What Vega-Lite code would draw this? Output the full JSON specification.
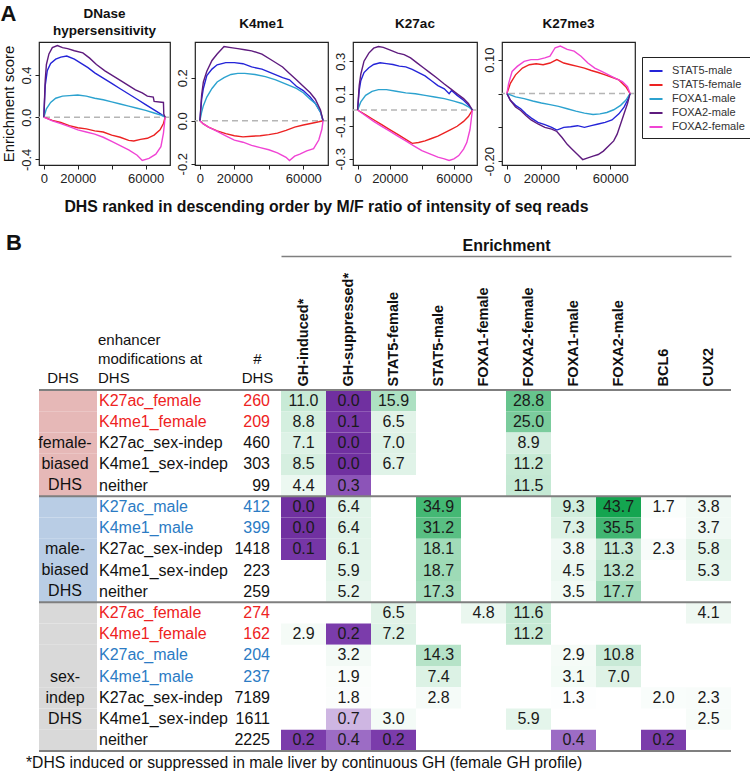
{
  "$schema": "https://vega.github.io/schema/vega-lite/v6.json",
  "padding": {"top": 2, "left": 0, "right": 2, "bottom": 0},
  "background": "white",
  "title": {"text": "A", "anchor": "start", "fontSize": 22, "fontWeight": "bold", "offset": -20},
  "datasets": {
    "curves": [
      {"p":"DNase","s":"STAT5-male","x":0,"y":0},{"p":"DNase","s":"STAT5-male","x":800,"y":0.3},{"p":"DNase","s":"STAT5-male","x":2000,"y":0.44},{"p":"DNase","s":"STAT5-male","x":4000,"y":0.51},{"p":"DNase","s":"STAT5-male","x":7000,"y":0.55},{"p":"DNase","s":"STAT5-male","x":10000,"y":0.57},{"p":"DNase","s":"STAT5-male","x":13500,"y":0.58},{"p":"DNase","s":"STAT5-male","x":18000,"y":0.55},{"p":"DNase","s":"STAT5-male","x":22000,"y":0.51},{"p":"DNase","s":"STAT5-male","x":26000,"y":0.47},{"p":"DNase","s":"STAT5-male","x":30000,"y":0.42},{"p":"DNase","s":"STAT5-male","x":35000,"y":0.37},{"p":"DNase","s":"STAT5-male","x":40000,"y":0.32},{"p":"DNase","s":"STAT5-male","x":45000,"y":0.27},{"p":"DNase","s":"STAT5-male","x":50000,"y":0.22},{"p":"DNase","s":"STAT5-male","x":55000,"y":0.17},{"p":"DNase","s":"STAT5-male","x":60000,"y":0.12},{"p":"DNase","s":"STAT5-male","x":65000,"y":0.07},{"p":"DNase","s":"STAT5-male","x":69000,"y":0.03},{"p":"DNase","s":"STAT5-male","x":71500,"y":0},
      {"p":"DNase","s":"STAT5-female","x":0,"y":0},{"p":"DNase","s":"STAT5-female","x":5000,"y":-0.03},{"p":"DNase","s":"STAT5-female","x":10000,"y":-0.05},{"p":"DNase","s":"STAT5-female","x":15000,"y":-0.08},{"p":"DNase","s":"STAT5-female","x":20000,"y":-0.1},{"p":"DNase","s":"STAT5-female","x":25000,"y":-0.11},{"p":"DNase","s":"STAT5-female","x":30000,"y":-0.13},{"p":"DNase","s":"STAT5-female","x":35000,"y":-0.14},{"p":"DNase","s":"STAT5-female","x":40000,"y":-0.17},{"p":"DNase","s":"STAT5-female","x":45000,"y":-0.19},{"p":"DNase","s":"STAT5-female","x":50000,"y":-0.22},{"p":"DNase","s":"STAT5-female","x":53000,"y":-0.225},{"p":"DNase","s":"STAT5-female","x":57000,"y":-0.21},{"p":"DNase","s":"STAT5-female","x":61000,"y":-0.2},{"p":"DNase","s":"STAT5-female","x":65000,"y":-0.17},{"p":"DNase","s":"STAT5-female","x":68500,"y":-0.12},{"p":"DNase","s":"STAT5-female","x":70500,"y":-0.06},{"p":"DNase","s":"STAT5-female","x":71500,"y":0},
      {"p":"DNase","s":"FOXA1-male","x":0,"y":0},{"p":"DNase","s":"FOXA1-male","x":1500,"y":0.08},{"p":"DNase","s":"FOXA1-male","x":4000,"y":0.14},{"p":"DNase","s":"FOXA1-male","x":7000,"y":0.18},{"p":"DNase","s":"FOXA1-male","x":11000,"y":0.2},{"p":"DNase","s":"FOXA1-male","x":15000,"y":0.205},{"p":"DNase","s":"FOXA1-male","x":20000,"y":0.21},{"p":"DNase","s":"FOXA1-male","x":25000,"y":0.2},{"p":"DNase","s":"FOXA1-male","x":30000,"y":0.18},{"p":"DNase","s":"FOXA1-male","x":35000,"y":0.165},{"p":"DNase","s":"FOXA1-male","x":40000,"y":0.145},{"p":"DNase","s":"FOXA1-male","x":45000,"y":0.125},{"p":"DNase","s":"FOXA1-male","x":50000,"y":0.105},{"p":"DNase","s":"FOXA1-male","x":55000,"y":0.085},{"p":"DNase","s":"FOXA1-male","x":60000,"y":0.065},{"p":"DNase","s":"FOXA1-male","x":65000,"y":0.04},{"p":"DNase","s":"FOXA1-male","x":69000,"y":0.02},{"p":"DNase","s":"FOXA1-male","x":71500,"y":0},
      {"p":"DNase","s":"FOXA2-male","x":0,"y":0},{"p":"DNase","s":"FOXA2-male","x":800,"y":0.35},{"p":"DNase","s":"FOXA2-male","x":1500,"y":0.5},{"p":"DNase","s":"FOXA2-male","x":3000,"y":0.6},{"p":"DNase","s":"FOXA2-male","x":5000,"y":0.66},{"p":"DNase","s":"FOXA2-male","x":8000,"y":0.68},{"p":"DNase","s":"FOXA2-male","x":11000,"y":0.66},{"p":"DNase","s":"FOXA2-male","x":14000,"y":0.65},{"p":"DNase","s":"FOXA2-male","x":18000,"y":0.63},{"p":"DNase","s":"FOXA2-male","x":23000,"y":0.61},{"p":"DNase","s":"FOXA2-male","x":27000,"y":0.56},{"p":"DNase","s":"FOXA2-male","x":31000,"y":0.5},{"p":"DNase","s":"FOXA2-male","x":36000,"y":0.44},{"p":"DNase","s":"FOXA2-male","x":41000,"y":0.39},{"p":"DNase","s":"FOXA2-male","x":46000,"y":0.34},{"p":"DNase","s":"FOXA2-male","x":50000,"y":0.3},{"p":"DNase","s":"FOXA2-male","x":54000,"y":0.26},{"p":"DNase","s":"FOXA2-male","x":58000,"y":0.23},{"p":"DNase","s":"FOXA2-male","x":61000,"y":0.2},{"p":"DNase","s":"FOXA2-male","x":64500,"y":0.19},{"p":"DNase","s":"FOXA2-male","x":65000,"y":0.15},{"p":"DNase","s":"FOXA2-male","x":70500,"y":0.14},{"p":"DNase","s":"FOXA2-male","x":70700,"y":0.03},{"p":"DNase","s":"FOXA2-male","x":71500,"y":0},
      {"p":"DNase","s":"FOXA2-female","x":0,"y":0},{"p":"DNase","s":"FOXA2-female","x":5000,"y":-0.035},{"p":"DNase","s":"FOXA2-female","x":10000,"y":-0.06},{"p":"DNase","s":"FOXA2-female","x":15000,"y":-0.09},{"p":"DNase","s":"FOXA2-female","x":20000,"y":-0.12},{"p":"DNase","s":"FOXA2-female","x":25000,"y":-0.14},{"p":"DNase","s":"FOXA2-female","x":30000,"y":-0.16},{"p":"DNase","s":"FOXA2-female","x":35000,"y":-0.19},{"p":"DNase","s":"FOXA2-female","x":40000,"y":-0.23},{"p":"DNase","s":"FOXA2-female","x":45000,"y":-0.27},{"p":"DNase","s":"FOXA2-female","x":50000,"y":-0.31},{"p":"DNase","s":"FOXA2-female","x":55000,"y":-0.36},{"p":"DNase","s":"FOXA2-female","x":58000,"y":-0.41},{"p":"DNase","s":"FOXA2-female","x":62000,"y":-0.39},{"p":"DNase","s":"FOXA2-female","x":66000,"y":-0.35},{"p":"DNase","s":"FOXA2-female","x":69000,"y":-0.28},{"p":"DNase","s":"FOXA2-female","x":70500,"y":-0.15},{"p":"DNase","s":"FOXA2-female","x":71500,"y":0},

      {"p":"K4me1","s":"STAT5-male","x":0,"y":0},{"p":"K4me1","s":"STAT5-male","x":1000,"y":0.1},{"p":"K4me1","s":"STAT5-male","x":2000,"y":0.15},{"p":"K4me1","s":"STAT5-male","x":4000,"y":0.21},{"p":"K4me1","s":"STAT5-male","x":7000,"y":0.24},{"p":"K4me1","s":"STAT5-male","x":10000,"y":0.26},{"p":"K4me1","s":"STAT5-male","x":15000,"y":0.27},{"p":"K4me1","s":"STAT5-male","x":20000,"y":0.27},{"p":"K4me1","s":"STAT5-male","x":25000,"y":0.265},{"p":"K4me1","s":"STAT5-male","x":30000,"y":0.25},{"p":"K4me1","s":"STAT5-male","x":36000,"y":0.24},{"p":"K4me1","s":"STAT5-male","x":42000,"y":0.22},{"p":"K4me1","s":"STAT5-male","x":48000,"y":0.2},{"p":"K4me1","s":"STAT5-male","x":52000,"y":0.19},{"p":"K4me1","s":"STAT5-male","x":56000,"y":0.16},{"p":"K4me1","s":"STAT5-male","x":60000,"y":0.14},{"p":"K4me1","s":"STAT5-male","x":64000,"y":0.11},{"p":"K4me1","s":"STAT5-male","x":67000,"y":0.08},{"p":"K4me1","s":"STAT5-male","x":70000,"y":0.04},{"p":"K4me1","s":"STAT5-male","x":71500,"y":0},
      {"p":"K4me1","s":"STAT5-female","x":0,"y":0},{"p":"K4me1","s":"STAT5-female","x":2000,"y":-0.015},{"p":"K4me1","s":"STAT5-female","x":5000,"y":-0.03},{"p":"K4me1","s":"STAT5-female","x":10000,"y":-0.047},{"p":"K4me1","s":"STAT5-female","x":15000,"y":-0.06},{"p":"K4me1","s":"STAT5-female","x":20000,"y":-0.07},{"p":"K4me1","s":"STAT5-female","x":25000,"y":-0.075},{"p":"K4me1","s":"STAT5-female","x":30000,"y":-0.072},{"p":"K4me1","s":"STAT5-female","x":35000,"y":-0.07},{"p":"K4me1","s":"STAT5-female","x":40000,"y":-0.065},{"p":"K4me1","s":"STAT5-female","x":45000,"y":-0.058},{"p":"K4me1","s":"STAT5-female","x":50000,"y":-0.045},{"p":"K4me1","s":"STAT5-female","x":55000,"y":-0.03},{"p":"K4me1","s":"STAT5-female","x":60000,"y":-0.02},{"p":"K4me1","s":"STAT5-female","x":65000,"y":-0.012},{"p":"K4me1","s":"STAT5-female","x":69000,"y":-0.005},{"p":"K4me1","s":"STAT5-female","x":71500,"y":0},
      {"p":"K4me1","s":"FOXA1-male","x":0,"y":0},{"p":"K4me1","s":"FOXA1-male","x":1000,"y":0.04},{"p":"K4me1","s":"FOXA1-male","x":2000,"y":0.07},{"p":"K4me1","s":"FOXA1-male","x":4000,"y":0.11},{"p":"K4me1","s":"FOXA1-male","x":7000,"y":0.15},{"p":"K4me1","s":"FOXA1-male","x":10000,"y":0.18},{"p":"K4me1","s":"FOXA1-male","x":14000,"y":0.2},{"p":"K4me1","s":"FOXA1-male","x":18000,"y":0.215},{"p":"K4me1","s":"FOXA1-male","x":22000,"y":0.22},{"p":"K4me1","s":"FOXA1-male","x":26000,"y":0.22},{"p":"K4me1","s":"FOXA1-male","x":32000,"y":0.215},{"p":"K4me1","s":"FOXA1-male","x":38000,"y":0.205},{"p":"K4me1","s":"FOXA1-male","x":44000,"y":0.19},{"p":"K4me1","s":"FOXA1-male","x":50000,"y":0.17},{"p":"K4me1","s":"FOXA1-male","x":56000,"y":0.15},{"p":"K4me1","s":"FOXA1-male","x":60000,"y":0.13},{"p":"K4me1","s":"FOXA1-male","x":64000,"y":0.1},{"p":"K4me1","s":"FOXA1-male","x":67000,"y":0.08},{"p":"K4me1","s":"FOXA1-male","x":70000,"y":0.04},{"p":"K4me1","s":"FOXA1-male","x":71500,"y":0},
      {"p":"K4me1","s":"FOXA2-male","x":0,"y":0},{"p":"K4me1","s":"FOXA2-male","x":1000,"y":0.12},{"p":"K4me1","s":"FOXA2-male","x":2000,"y":0.18},{"p":"K4me1","s":"FOXA2-male","x":4000,"y":0.23},{"p":"K4me1","s":"FOXA2-male","x":7000,"y":0.28},{"p":"K4me1","s":"FOXA2-male","x":10000,"y":0.31},{"p":"K4me1","s":"FOXA2-male","x":14000,"y":0.345},{"p":"K4me1","s":"FOXA2-male","x":18000,"y":0.34},{"p":"K4me1","s":"FOXA2-male","x":22000,"y":0.335},{"p":"K4me1","s":"FOXA2-male","x":26000,"y":0.33},{"p":"K4me1","s":"FOXA2-male","x":30000,"y":0.325},{"p":"K4me1","s":"FOXA2-male","x":36000,"y":0.31},{"p":"K4me1","s":"FOXA2-male","x":42000,"y":0.28},{"p":"K4me1","s":"FOXA2-male","x":48000,"y":0.25},{"p":"K4me1","s":"FOXA2-male","x":52000,"y":0.22},{"p":"K4me1","s":"FOXA2-male","x":56000,"y":0.19},{"p":"K4me1","s":"FOXA2-male","x":60000,"y":0.16},{"p":"K4me1","s":"FOXA2-male","x":64000,"y":0.13},{"p":"K4me1","s":"FOXA2-male","x":67000,"y":0.1},{"p":"K4me1","s":"FOXA2-male","x":70000,"y":0.05},{"p":"K4me1","s":"FOXA2-male","x":71500,"y":0},
      {"p":"K4me1","s":"FOXA2-female","x":0,"y":0},{"p":"K4me1","s":"FOXA2-female","x":2000,"y":-0.015},{"p":"K4me1","s":"FOXA2-female","x":5000,"y":-0.03},{"p":"K4me1","s":"FOXA2-female","x":10000,"y":-0.05},{"p":"K4me1","s":"FOXA2-female","x":15000,"y":-0.07},{"p":"K4me1","s":"FOXA2-female","x":20000,"y":-0.09},{"p":"K4me1","s":"FOXA2-female","x":25000,"y":-0.1},{"p":"K4me1","s":"FOXA2-female","x":30000,"y":-0.115},{"p":"K4me1","s":"FOXA2-female","x":35000,"y":-0.125},{"p":"K4me1","s":"FOXA2-female","x":40000,"y":-0.135},{"p":"K4me1","s":"FOXA2-female","x":45000,"y":-0.15},{"p":"K4me1","s":"FOXA2-female","x":50000,"y":-0.17},{"p":"K4me1","s":"FOXA2-female","x":52000,"y":-0.185},{"p":"K4me1","s":"FOXA2-female","x":55000,"y":-0.165},{"p":"K4me1","s":"FOXA2-female","x":58000,"y":-0.155},{"p":"K4me1","s":"FOXA2-female","x":62000,"y":-0.14},{"p":"K4me1","s":"FOXA2-female","x":66000,"y":-0.13},{"p":"K4me1","s":"FOXA2-female","x":69000,"y":-0.09},{"p":"K4me1","s":"FOXA2-female","x":70800,"y":-0.04},{"p":"K4me1","s":"FOXA2-female","x":71500,"y":0},

      {"p":"K27ac","s":"STAT5-male","x":0,"y":0},{"p":"K27ac","s":"STAT5-male","x":1000,"y":0.12},{"p":"K27ac","s":"STAT5-male","x":2000,"y":0.18},{"p":"K27ac","s":"STAT5-male","x":4000,"y":0.23},{"p":"K27ac","s":"STAT5-male","x":7000,"y":0.26},{"p":"K27ac","s":"STAT5-male","x":10000,"y":0.28},{"p":"K27ac","s":"STAT5-male","x":14000,"y":0.29},{"p":"K27ac","s":"STAT5-male","x":18000,"y":0.285},{"p":"K27ac","s":"STAT5-male","x":22000,"y":0.28},{"p":"K27ac","s":"STAT5-male","x":26000,"y":0.27},{"p":"K27ac","s":"STAT5-male","x":30000,"y":0.265},{"p":"K27ac","s":"STAT5-male","x":34000,"y":0.25},{"p":"K27ac","s":"STAT5-male","x":38000,"y":0.23},{"p":"K27ac","s":"STAT5-male","x":42000,"y":0.21},{"p":"K27ac","s":"STAT5-male","x":46000,"y":0.18},{"p":"K27ac","s":"STAT5-male","x":50000,"y":0.15},{"p":"K27ac","s":"STAT5-male","x":54000,"y":0.13},{"p":"K27ac","s":"STAT5-male","x":57000,"y":0.1},{"p":"K27ac","s":"STAT5-male","x":58500,"y":0.12},{"p":"K27ac","s":"STAT5-male","x":62000,"y":0.09},{"p":"K27ac","s":"STAT5-male","x":66000,"y":0.06},{"p":"K27ac","s":"STAT5-male","x":69000,"y":0.03},{"p":"K27ac","s":"STAT5-male","x":71500,"y":0},
      {"p":"K27ac","s":"STAT5-female","x":0,"y":0},{"p":"K27ac","s":"STAT5-female","x":5000,"y":-0.03},{"p":"K27ac","s":"STAT5-female","x":10000,"y":-0.06},{"p":"K27ac","s":"STAT5-female","x":15000,"y":-0.09},{"p":"K27ac","s":"STAT5-female","x":20000,"y":-0.12},{"p":"K27ac","s":"STAT5-female","x":25000,"y":-0.15},{"p":"K27ac","s":"STAT5-female","x":30000,"y":-0.18},{"p":"K27ac","s":"STAT5-female","x":34000,"y":-0.205},{"p":"K27ac","s":"STAT5-female","x":38000,"y":-0.2},{"p":"K27ac","s":"STAT5-female","x":42000,"y":-0.19},{"p":"K27ac","s":"STAT5-female","x":46000,"y":-0.175},{"p":"K27ac","s":"STAT5-female","x":50000,"y":-0.16},{"p":"K27ac","s":"STAT5-female","x":54000,"y":-0.14},{"p":"K27ac","s":"STAT5-female","x":58000,"y":-0.12},{"p":"K27ac","s":"STAT5-female","x":62000,"y":-0.1},{"p":"K27ac","s":"STAT5-female","x":66000,"y":-0.07},{"p":"K27ac","s":"STAT5-female","x":69000,"y":-0.04},{"p":"K27ac","s":"STAT5-female","x":71500,"y":0},
      {"p":"K27ac","s":"FOXA1-male","x":0,"y":0},{"p":"K27ac","s":"FOXA1-male","x":2000,"y":0.05},{"p":"K27ac","s":"FOXA1-male","x":5000,"y":0.09},{"p":"K27ac","s":"FOXA1-male","x":9000,"y":0.115},{"p":"K27ac","s":"FOXA1-male","x":13000,"y":0.125},{"p":"K27ac","s":"FOXA1-male","x":18000,"y":0.125},{"p":"K27ac","s":"FOXA1-male","x":24000,"y":0.115},{"p":"K27ac","s":"FOXA1-male","x":30000,"y":0.105},{"p":"K27ac","s":"FOXA1-male","x":36000,"y":0.1},{"p":"K27ac","s":"FOXA1-male","x":42000,"y":0.09},{"p":"K27ac","s":"FOXA1-male","x":48000,"y":0.08},{"p":"K27ac","s":"FOXA1-male","x":54000,"y":0.07},{"p":"K27ac","s":"FOXA1-male","x":60000,"y":0.055},{"p":"K27ac","s":"FOXA1-male","x":65000,"y":0.04},{"p":"K27ac","s":"FOXA1-male","x":69000,"y":0.02},{"p":"K27ac","s":"FOXA1-male","x":71500,"y":0},
      {"p":"K27ac","s":"FOXA2-male","x":0,"y":0},{"p":"K27ac","s":"FOXA2-male","x":1000,"y":0.15},{"p":"K27ac","s":"FOXA2-male","x":2000,"y":0.22},{"p":"K27ac","s":"FOXA2-male","x":4000,"y":0.3},{"p":"K27ac","s":"FOXA2-male","x":7000,"y":0.35},{"p":"K27ac","s":"FOXA2-male","x":10000,"y":0.38},{"p":"K27ac","s":"FOXA2-male","x":13000,"y":0.39},{"p":"K27ac","s":"FOXA2-male","x":16000,"y":0.385},{"p":"K27ac","s":"FOXA2-male","x":20000,"y":0.37},{"p":"K27ac","s":"FOXA2-male","x":25000,"y":0.35},{"p":"K27ac","s":"FOXA2-male","x":29000,"y":0.34},{"p":"K27ac","s":"FOXA2-male","x":33000,"y":0.32},{"p":"K27ac","s":"FOXA2-male","x":37000,"y":0.29},{"p":"K27ac","s":"FOXA2-male","x":41000,"y":0.26},{"p":"K27ac","s":"FOXA2-male","x":45000,"y":0.23},{"p":"K27ac","s":"FOXA2-male","x":49000,"y":0.2},{"p":"K27ac","s":"FOXA2-male","x":54000,"y":0.16},{"p":"K27ac","s":"FOXA2-male","x":58000,"y":0.13},{"p":"K27ac","s":"FOXA2-male","x":62000,"y":0.1},{"p":"K27ac","s":"FOXA2-male","x":66000,"y":0.07},{"p":"K27ac","s":"FOXA2-male","x":69000,"y":0.04},{"p":"K27ac","s":"FOXA2-male","x":71500,"y":0},
      {"p":"K27ac","s":"FOXA2-female","x":0,"y":0},{"p":"K27ac","s":"FOXA2-female","x":5000,"y":-0.035},{"p":"K27ac","s":"FOXA2-female","x":10000,"y":-0.07},{"p":"K27ac","s":"FOXA2-female","x":15000,"y":-0.1},{"p":"K27ac","s":"FOXA2-female","x":20000,"y":-0.13},{"p":"K27ac","s":"FOXA2-female","x":25000,"y":-0.16},{"p":"K27ac","s":"FOXA2-female","x":30000,"y":-0.19},{"p":"K27ac","s":"FOXA2-female","x":35000,"y":-0.22},{"p":"K27ac","s":"FOXA2-female","x":40000,"y":-0.25},{"p":"K27ac","s":"FOXA2-female","x":45000,"y":-0.27},{"p":"K27ac","s":"FOXA2-female","x":50000,"y":-0.29},{"p":"K27ac","s":"FOXA2-female","x":54000,"y":-0.3},{"p":"K27ac","s":"FOXA2-female","x":57000,"y":-0.31},{"p":"K27ac","s":"FOXA2-female","x":60000,"y":-0.3},{"p":"K27ac","s":"FOXA2-female","x":63000,"y":-0.28},{"p":"K27ac","s":"FOXA2-female","x":66000,"y":-0.24},{"p":"K27ac","s":"FOXA2-female","x":68000,"y":-0.2},{"p":"K27ac","s":"FOXA2-female","x":70000,"y":-0.12},{"p":"K27ac","s":"FOXA2-female","x":71500,"y":0},

      {"p":"K27me3","s":"STAT5-male","x":0,"y":0},{"p":"K27me3","s":"STAT5-male","x":2000,"y":-0.02},{"p":"K27me3","s":"STAT5-male","x":5000,"y":-0.035},{"p":"K27me3","s":"STAT5-male","x":8000,"y":-0.045},{"p":"K27me3","s":"STAT5-male","x":11000,"y":-0.06},{"p":"K27me3","s":"STAT5-male","x":14000,"y":-0.072},{"p":"K27me3","s":"STAT5-male","x":18000,"y":-0.085},{"p":"K27me3","s":"STAT5-male","x":22000,"y":-0.092},{"p":"K27me3","s":"STAT5-male","x":26000,"y":-0.1},{"p":"K27me3","s":"STAT5-male","x":29000,"y":-0.108},{"p":"K27me3","s":"STAT5-male","x":33000,"y":-0.1},{"p":"K27me3","s":"STAT5-male","x":37000,"y":-0.098},{"p":"K27me3","s":"STAT5-male","x":41000,"y":-0.095},{"p":"K27me3","s":"STAT5-male","x":45000,"y":-0.1},{"p":"K27me3","s":"STAT5-male","x":49000,"y":-0.095},{"p":"K27me3","s":"STAT5-male","x":53000,"y":-0.09},{"p":"K27me3","s":"STAT5-male","x":57000,"y":-0.085},{"p":"K27me3","s":"STAT5-male","x":61000,"y":-0.078},{"p":"K27me3","s":"STAT5-male","x":65000,"y":-0.06},{"p":"K27me3","s":"STAT5-male","x":68000,"y":-0.04},{"p":"K27me3","s":"STAT5-male","x":70000,"y":-0.02},{"p":"K27me3","s":"STAT5-male","x":71500,"y":0},
      {"p":"K27me3","s":"STAT5-female","x":0,"y":0},{"p":"K27me3","s":"STAT5-female","x":2000,"y":0.03},{"p":"K27me3","s":"STAT5-female","x":5000,"y":0.055},{"p":"K27me3","s":"STAT5-female","x":9000,"y":0.075},{"p":"K27me3","s":"STAT5-female","x":13000,"y":0.085},{"p":"K27me3","s":"STAT5-female","x":17000,"y":0.088},{"p":"K27me3","s":"STAT5-female","x":21000,"y":0.085},{"p":"K27me3","s":"STAT5-female","x":25000,"y":0.09},{"p":"K27me3","s":"STAT5-female","x":29000,"y":0.1},{"p":"K27me3","s":"STAT5-female","x":33000,"y":0.09},{"p":"K27me3","s":"STAT5-female","x":37000,"y":0.085},{"p":"K27me3","s":"STAT5-female","x":41000,"y":0.08},{"p":"K27me3","s":"STAT5-female","x":45000,"y":0.075},{"p":"K27me3","s":"STAT5-female","x":49000,"y":0.068},{"p":"K27me3","s":"STAT5-female","x":53000,"y":0.062},{"p":"K27me3","s":"STAT5-female","x":57000,"y":0.055},{"p":"K27me3","s":"STAT5-female","x":61000,"y":0.048},{"p":"K27me3","s":"STAT5-female","x":65000,"y":0.04},{"p":"K27me3","s":"STAT5-female","x":69000,"y":0.02},{"p":"K27me3","s":"STAT5-female","x":71500,"y":0},
      {"p":"K27me3","s":"FOXA1-male","x":0,"y":0},{"p":"K27me3","s":"FOXA1-male","x":5000,"y":-0.01},{"p":"K27me3","s":"FOXA1-male","x":10000,"y":-0.015},{"p":"K27me3","s":"FOXA1-male","x":15000,"y":-0.022},{"p":"K27me3","s":"FOXA1-male","x":20000,"y":-0.028},{"p":"K27me3","s":"FOXA1-male","x":25000,"y":-0.033},{"p":"K27me3","s":"FOXA1-male","x":30000,"y":-0.038},{"p":"K27me3","s":"FOXA1-male","x":35000,"y":-0.045},{"p":"K27me3","s":"FOXA1-male","x":40000,"y":-0.052},{"p":"K27me3","s":"FOXA1-male","x":45000,"y":-0.058},{"p":"K27me3","s":"FOXA1-male","x":50000,"y":-0.062},{"p":"K27me3","s":"FOXA1-male","x":54000,"y":-0.06},{"p":"K27me3","s":"FOXA1-male","x":58000,"y":-0.056},{"p":"K27me3","s":"FOXA1-male","x":62000,"y":-0.048},{"p":"K27me3","s":"FOXA1-male","x":66000,"y":-0.035},{"p":"K27me3","s":"FOXA1-male","x":69000,"y":-0.02},{"p":"K27me3","s":"FOXA1-male","x":71500,"y":0},
      {"p":"K27me3","s":"FOXA2-male","x":0,"y":0},{"p":"K27me3","s":"FOXA2-male","x":2000,"y":-0.02},{"p":"K27me3","s":"FOXA2-male","x":5000,"y":-0.04},{"p":"K27me3","s":"FOXA2-male","x":8000,"y":-0.05},{"p":"K27me3","s":"FOXA2-male","x":11000,"y":-0.065},{"p":"K27me3","s":"FOXA2-male","x":14000,"y":-0.078},{"p":"K27me3","s":"FOXA2-male","x":18000,"y":-0.09},{"p":"K27me3","s":"FOXA2-male","x":22000,"y":-0.1},{"p":"K27me3","s":"FOXA2-male","x":26000,"y":-0.105},{"p":"K27me3","s":"FOXA2-male","x":29000,"y":-0.112},{"p":"K27me3","s":"FOXA2-male","x":32000,"y":-0.13},{"p":"K27me3","s":"FOXA2-male","x":35000,"y":-0.15},{"p":"K27me3","s":"FOXA2-male","x":38000,"y":-0.165},{"p":"K27me3","s":"FOXA2-male","x":41000,"y":-0.18},{"p":"K27me3","s":"FOXA2-male","x":44000,"y":-0.195},{"p":"K27me3","s":"FOXA2-male","x":47000,"y":-0.19},{"p":"K27me3","s":"FOXA2-male","x":50000,"y":-0.185},{"p":"K27me3","s":"FOXA2-male","x":53000,"y":-0.18},{"p":"K27me3","s":"FOXA2-male","x":56000,"y":-0.17},{"p":"K27me3","s":"FOXA2-male","x":59000,"y":-0.155},{"p":"K27me3","s":"FOXA2-male","x":62000,"y":-0.14},{"p":"K27me3","s":"FOXA2-male","x":64000,"y":-0.12},{"p":"K27me3","s":"FOXA2-male","x":66000,"y":-0.09},{"p":"K27me3","s":"FOXA2-male","x":68000,"y":-0.06},{"p":"K27me3","s":"FOXA2-male","x":70000,"y":-0.03},{"p":"K27me3","s":"FOXA2-male","x":71500,"y":0},
      {"p":"K27me3","s":"FOXA2-female","x":0,"y":0},{"p":"K27me3","s":"FOXA2-female","x":1000,"y":0.03},{"p":"K27me3","s":"FOXA2-female","x":3000,"y":0.065},{"p":"K27me3","s":"FOXA2-female","x":6000,"y":0.08},{"p":"K27me3","s":"FOXA2-female","x":10000,"y":0.095},{"p":"K27me3","s":"FOXA2-female","x":14000,"y":0.1},{"p":"K27me3","s":"FOXA2-female","x":18000,"y":0.1},{"p":"K27me3","s":"FOXA2-female","x":22000,"y":0.105},{"p":"K27me3","s":"FOXA2-female","x":25000,"y":0.11},{"p":"K27me3","s":"FOXA2-female","x":28000,"y":0.135},{"p":"K27me3","s":"FOXA2-female","x":31000,"y":0.14},{"p":"K27me3","s":"FOXA2-female","x":35000,"y":0.13},{"p":"K27me3","s":"FOXA2-female","x":39000,"y":0.125},{"p":"K27me3","s":"FOXA2-female","x":43000,"y":0.11},{"p":"K27me3","s":"FOXA2-female","x":47000,"y":0.09},{"p":"K27me3","s":"FOXA2-female","x":51000,"y":0.075},{"p":"K27me3","s":"FOXA2-female","x":55000,"y":0.065},{"p":"K27me3","s":"FOXA2-female","x":59000,"y":0.055},{"p":"K27me3","s":"FOXA2-female","x":63000,"y":0.045},{"p":"K27me3","s":"FOXA2-female","x":67000,"y":0.035},{"p":"K27me3","s":"FOXA2-female","x":70000,"y":0.02},{"p":"K27me3","s":"FOXA2-female","x":71500,"y":0}
    ],
    "rows": [
      {"r":1,"g":"female","mod":"K27ac_female","m":"female","n":260},
      {"r":2,"g":"female","mod":"K4me1_female","m":"female","n":209},
      {"r":3,"g":"female","mod":"K27ac_sex-indep","m":"none","n":460},
      {"r":4,"g":"female","mod":"K4me1_sex-indep","m":"none","n":303},
      {"r":5,"g":"female","mod":"neither","m":"none","n":99},
      {"r":6,"g":"male","mod":"K27ac_male","m":"male","n":412},
      {"r":7,"g":"male","mod":"K4me1_male","m":"male","n":399},
      {"r":8,"g":"male","mod":"K27ac_sex-indep","m":"none","n":1418},
      {"r":9,"g":"male","mod":"K4me1_sex-indep","m":"none","n":223},
      {"r":10,"g":"male","mod":"neither","m":"none","n":259},
      {"r":11,"g":"indep","mod":"K27ac_female","m":"female","n":274},
      {"r":12,"g":"indep","mod":"K4me1_female","m":"female","n":162},
      {"r":13,"g":"indep","mod":"K27ac_male","m":"male","n":204},
      {"r":14,"g":"indep","mod":"K4me1_male","m":"male","n":237},
      {"r":15,"g":"indep","mod":"K27ac_sex-indep","m":"none","n":7189},
      {"r":16,"g":"indep","mod":"K4me1_sex-indep","m":"none","n":1611},
      {"r":17,"g":"indep","mod":"neither","m":"none","n":2225}
    ],
    "groups": [
      {"r":3,"label":"female-\nbiased\nDHS"},
      {"r":8,"label":"male-\nbiased\nDHS"},
      {"r":14,"label":"sex-\nindep\nDHS"}
    ],
    "grouptops": [{"r":1},{"r":6},{"r":11}],
    "tablebottom": [{"r":17}],
    "cells": [
      {"r":1,"c":"GH-induced*","v":11.0},{"r":1,"c":"GH-suppressed*","v":0.0},{"r":1,"c":"STAT5-female","v":15.9},{"r":1,"c":"FOXA2-female","v":28.8},
      {"r":2,"c":"GH-induced*","v":8.8},{"r":2,"c":"GH-suppressed*","v":0.1},{"r":2,"c":"STAT5-female","v":6.5},{"r":2,"c":"FOXA2-female","v":25.0},
      {"r":3,"c":"GH-induced*","v":7.1},{"r":3,"c":"GH-suppressed*","v":0.0},{"r":3,"c":"STAT5-female","v":7.0},{"r":3,"c":"FOXA2-female","v":8.9},
      {"r":4,"c":"GH-induced*","v":8.5},{"r":4,"c":"GH-suppressed*","v":0.0},{"r":4,"c":"STAT5-female","v":6.7},{"r":4,"c":"FOXA2-female","v":11.2},
      {"r":5,"c":"GH-induced*","v":4.4},{"r":5,"c":"GH-suppressed*","v":0.3},{"r":5,"c":"FOXA2-female","v":11.5},
      {"r":6,"c":"GH-induced*","v":0.0},{"r":6,"c":"GH-suppressed*","v":6.4},{"r":6,"c":"STAT5-male","v":34.9},{"r":6,"c":"FOXA1-male","v":9.3},{"r":6,"c":"FOXA2-male","v":43.7},{"r":6,"c":"BCL6","v":1.7},{"r":6,"c":"CUX2","v":3.8},
      {"r":7,"c":"GH-induced*","v":0.0},{"r":7,"c":"GH-suppressed*","v":6.4},{"r":7,"c":"STAT5-male","v":31.2},{"r":7,"c":"FOXA1-male","v":7.3},{"r":7,"c":"FOXA2-male","v":35.5},{"r":7,"c":"CUX2","v":3.7},
      {"r":8,"c":"GH-induced*","v":0.1},{"r":8,"c":"GH-suppressed*","v":6.1},{"r":8,"c":"STAT5-male","v":18.1},{"r":8,"c":"FOXA1-male","v":3.8},{"r":8,"c":"FOXA2-male","v":11.3},{"r":8,"c":"BCL6","v":2.3},{"r":8,"c":"CUX2","v":5.8},
      {"r":9,"c":"GH-suppressed*","v":5.9},{"r":9,"c":"STAT5-male","v":18.7},{"r":9,"c":"FOXA1-male","v":4.5},{"r":9,"c":"FOXA2-male","v":13.2},{"r":9,"c":"CUX2","v":5.3},
      {"r":10,"c":"GH-suppressed*","v":5.2},{"r":10,"c":"STAT5-male","v":17.3},{"r":10,"c":"FOXA1-male","v":3.5},{"r":10,"c":"FOXA2-male","v":17.7},
      {"r":11,"c":"STAT5-female","v":6.5},{"r":11,"c":"FOXA1-female","v":4.8},{"r":11,"c":"FOXA2-female","v":11.6},{"r":11,"c":"CUX2","v":4.1},
      {"r":12,"c":"GH-induced*","v":2.9},{"r":12,"c":"GH-suppressed*","v":0.2},{"r":12,"c":"STAT5-female","v":7.2},{"r":12,"c":"FOXA2-female","v":11.2},
      {"r":13,"c":"GH-suppressed*","v":3.2},{"r":13,"c":"STAT5-male","v":14.3},{"r":13,"c":"FOXA1-male","v":2.9},{"r":13,"c":"FOXA2-male","v":10.8},
      {"r":14,"c":"GH-suppressed*","v":1.9},{"r":14,"c":"STAT5-male","v":7.4},{"r":14,"c":"FOXA1-male","v":3.1},{"r":14,"c":"FOXA2-male","v":7.0},
      {"r":15,"c":"GH-suppressed*","v":1.8},{"r":15,"c":"STAT5-male","v":2.8},{"r":15,"c":"FOXA1-male","v":1.3},{"r":15,"c":"BCL6","v":2.0},{"r":15,"c":"CUX2","v":2.3},
      {"r":16,"c":"GH-suppressed*","v":0.7},{"r":16,"c":"STAT5-female","v":3.0},{"r":16,"c":"FOXA2-female","v":5.9},{"r":16,"c":"CUX2","v":2.5},
      {"r":17,"c":"GH-induced*","v":0.2},{"r":17,"c":"GH-suppressed*","v":0.4},{"r":17,"c":"STAT5-female","v":0.2},{"r":17,"c":"FOXA1-male","v":0.4},{"r":17,"c":"BCL6","v":0.2}
    ]
  },
  "columns": 1,
  "align": "none",
  "spacing": 17,
  "concat": [
    {
      "title": {"text": "DHS ranked in descending order by M/F ratio of intensity of seq reads", "orient": "bottom", "anchor": "start", "fontSize": 15.8, "fontWeight": "bold", "offset": 14, "dx": 64},
      "spacing": 25,
      "bounds": "flush",
      "resolve": {"scale": {"x": "independent", "y": "independent", "color": "independent"}, "legend": {"color": "independent"}},
      "hconcat": [
        {
          "width": 131, "height": 123,
          "title": {"text": ["DNase", "hypersensitivity"], "fontSize": 13.5, "fontWeight": "bold", "lineHeight": 17, "offset": 5},
          "layer": [
            {"data": {"values": [{"z": 0}]}, "mark": {"type": "rule", "color": "#b5b5b5", "strokeDash": [6, 4], "strokeWidth": 1.5},
             "encoding": {"y": {"field": "z", "type": "quantitative", "scale": {"domain": [-0.453, 0.713], "nice": false, "zero": false}}}},
            {"data": {"name": "curves"}, "transform": [{"filter": "datum.p == 'DNase'"}],
             "mark": {"type": "line", "strokeWidth": 1.4},
             "encoding": {
               "x": {"field": "x", "type": "quantitative", "scale": {"domain": [-2860, 74360], "nice": false, "zero": false},
                     "axis": {"values": [0, 20000, 40000, 60000], "labelExpr": "datum.value == 40000 ? '' : format(datum.value, 'd')", "title": null, "tickSize": 4, "labelFontSize": 13, "labelPadding": 3, "labelFlush": false, "labelOverlap": false}},
               "y": {"field": "y", "type": "quantitative", "scale": {"domain": [-0.453, 0.713], "nice": false, "zero": false},
                     "axis": {"values": [-0.4, -0.2, 0, 0.2, 0.4, 0.6], "labelExpr": "(abs(datum.value) < 0.001 || abs(abs(datum.value) - 0.4) < 0.001) ? ((datum.value < 0 ? '-' : '') + format(abs(datum.value), '.1f')) : ''", "labelAngle": -90, "labelAlign": "center", "labelBaseline": "bottom", "title": "Enrichment score", "titleFontSize": 15, "titleFontWeight": "normal", "titlePadding": 4, "tickSize": 4, "labelFontSize": 13, "labelPadding": 2, "labelOverlap": false, "labelFlush": false}},
               "color": {"field": "s", "type": "nominal", "scale": {"domain": ["STAT5-male", "STAT5-female", "FOXA1-male", "FOXA2-male", "FOXA2-female"], "range": ["#2424d8", "#ec2222", "#2ca2cf", "#5e1b7e", "#f044d4"]}, "legend": null}
             }}
          ]
        },
        {
          "width": 133, "height": 123,
          "title": {"text": "K4me1", "fontSize": 13.5, "fontWeight": "bold", "offset": 12},
          "layer": [
            {"data": {"values": [{"z": 0}]}, "mark": {"type": "rule", "color": "#b5b5b5", "strokeDash": [6, 4], "strokeWidth": 1.5},
             "encoding": {"y": {"field": "z", "type": "quantitative", "scale": {"domain": [-0.206, 0.366], "nice": false, "zero": false}}}},
            {"data": {"name": "curves"}, "transform": [{"filter": "datum.p == 'K4me1'"}],
             "mark": {"type": "line", "strokeWidth": 1.4},
             "encoding": {
               "x": {"field": "x", "type": "quantitative", "scale": {"domain": [-2860, 74360], "nice": false, "zero": false},
                     "axis": {"values": [0, 20000, 40000, 60000], "labelExpr": "datum.value == 40000 ? '' : format(datum.value, 'd')", "title": null, "tickSize": 4, "labelFontSize": 13, "labelPadding": 3, "labelFlush": false, "labelOverlap": false}},
               "y": {"field": "y", "type": "quantitative", "scale": {"domain": [-0.206, 0.366], "nice": false, "zero": false},
                     "axis": {"values": [-0.2, -0.1, 0, 0.1, 0.2, 0.3], "labelExpr": "(abs(datum.value) < 0.001 || abs(abs(datum.value) - 0.2) < 0.001) ? ((datum.value < 0 ? '-' : '') + format(abs(datum.value), '.1f')) : ''", "labelAngle": -90, "labelAlign": "center", "labelBaseline": "bottom", "title": null, "tickSize": 4, "labelFontSize": 13, "labelPadding": 2, "labelOverlap": false, "labelFlush": false}},
               "color": {"field": "s", "type": "nominal", "scale": {"domain": ["STAT5-male", "STAT5-female", "FOXA1-male", "FOXA2-male", "FOXA2-female"], "range": ["#2424d8", "#ec2222", "#2ca2cf", "#5e1b7e", "#f044d4"]}, "legend": null}
             }}
          ]
        },
        {
          "width": 124, "height": 123,
          "title": {"text": "K27ac", "fontSize": 13.5, "fontWeight": "bold", "offset": 12},
          "layer": [
            {"data": {"values": [{"z": 0}]}, "mark": {"type": "rule", "color": "#b5b5b5", "strokeDash": [6, 4], "strokeWidth": 1.5},
             "encoding": {"y": {"field": "z", "type": "quantitative", "scale": {"domain": [-0.338, 0.418], "nice": false, "zero": false}}}},
            {"data": {"name": "curves"}, "transform": [{"filter": "datum.p == 'K27ac'"}],
             "mark": {"type": "line", "strokeWidth": 1.4},
             "encoding": {
               "x": {"field": "x", "type": "quantitative", "scale": {"domain": [-2860, 74360], "nice": false, "zero": false},
                     "axis": {"values": [0, 20000, 40000, 60000], "labelExpr": "datum.value == 40000 ? '' : format(datum.value, 'd')", "title": null, "tickSize": 4, "labelFontSize": 13, "labelPadding": 3, "labelFlush": false, "labelOverlap": false}},
               "y": {"field": "y", "type": "quantitative", "scale": {"domain": [-0.338, 0.418], "nice": false, "zero": false},
                     "axis": {"values": [-0.3, -0.2, -0.1, 0, 0.1, 0.2, 0.3, 0.4], "labelExpr": "(abs(abs(datum.value) - 0.1) < 0.001 || abs(abs(datum.value) - 0.3) < 0.001) ? ((datum.value < 0 ? '-' : '') + format(abs(datum.value), '.1f')) : ''", "labelAngle": -90, "labelAlign": "center", "labelBaseline": "bottom", "title": null, "tickSize": 4, "labelFontSize": 13, "labelPadding": 2, "labelOverlap": false, "labelFlush": false}},
               "color": {"field": "s", "type": "nominal", "scale": {"domain": ["STAT5-male", "STAT5-female", "FOXA1-male", "FOXA2-male", "FOXA2-female"], "range": ["#2424d8", "#ec2222", "#2ca2cf", "#5e1b7e", "#f044d4"]}, "legend": null}
             }}
          ]
        },
        {
          "width": 133, "height": 123,
          "title": {"text": "K27me3", "fontSize": 13.5, "fontWeight": "bold", "offset": 12},
          "layer": [
            {"data": {"values": [{"z": 0}]}, "mark": {"type": "rule", "color": "#b5b5b5", "strokeDash": [6, 4], "strokeWidth": 1.5},
             "encoding": {"y": {"field": "z", "type": "quantitative", "scale": {"domain": [-0.211, 0.152], "nice": false, "zero": false}}}},
            {"data": {"name": "curves"}, "transform": [{"filter": "datum.p == 'K27me3'"}],
             "mark": {"type": "line", "strokeWidth": 1.4},
             "encoding": {
               "x": {"field": "x", "type": "quantitative", "scale": {"domain": [-2860, 74360], "nice": false, "zero": false},
                     "axis": {"values": [0, 20000, 40000, 60000], "labelExpr": "datum.value == 40000 ? '' : format(datum.value, 'd')", "title": null, "tickSize": 4, "labelFontSize": 13, "labelPadding": 3, "labelFlush": false, "labelOverlap": false}},
               "y": {"field": "y", "type": "quantitative", "scale": {"domain": [-0.211, 0.152], "nice": false, "zero": false},
                     "axis": {"values": [-0.2, -0.15, -0.1, -0.05, 0, 0.05, 0.1, 0.15], "labelExpr": "(abs(datum.value - 0.1) < 0.001 || abs(datum.value + 0.05) < 0.001 || abs(datum.value + 0.2) < 0.001) ? ((datum.value < 0 ? '-' : '') + format(abs(datum.value), '.2f')) : ''", "labelAngle": -90, "labelAlign": "center", "labelBaseline": "bottom", "title": null, "tickSize": 4, "labelFontSize": 13, "labelPadding": 2, "labelOverlap": false, "labelFlush": false}},
               "color": {"field": "s", "type": "nominal", "scale": {"domain": ["STAT5-male", "STAT5-female", "FOXA1-male", "FOXA2-male", "FOXA2-female"], "range": ["#2424d8", "#ec2222", "#2ca2cf", "#5e1b7e", "#f044d4"]},
                         "legend": {"orient": "none", "legendX": 140, "legendY": 15, "title": null, "symbolType": "stroke", "symbolStrokeWidth": 2, "symbolSize": 170, "labelFontSize": 11, "labelColor": "#333", "strokeColor": "#222", "padding": 6, "rowPadding": 1, "labelOffset": 8}}
             }}
          ]
        }
      ]
    },
    {
      "title": {"text": "B", "anchor": "start", "fontSize": 22, "fontWeight": "bold", "dx": -20, "offset": -18},
      "vconcat": [
        {
          "title": {"text": "*DHS induced or suppressed in male liver by continuous GH (female GH profile)", "orient": "bottom", "anchor": "start", "fontSize": 15.7, "fontWeight": "normal", "offset": 4, "dx": -12},
          "spacing": 0,
          "bounds": "flush",
          "resolve": {"scale": {"x": "independent", "y": "independent", "color": "independent"}},
          "hconcat": [
            {
              "width": 58, "height": 361,
              "view": {"stroke": null},
              "title": {"text": "DHS", "fontSize": 15, "fontWeight": "normal", "offset": 3, "dx": -5},
              "layer": [
                {"data": {"name": "rows"}, "mark": {"type": "rect"},
                 "encoding": {
                   "y": {"field": "r", "type": "ordinal", "scale": {"domain": [1,2,3,4,5,6,7,8,9,10,11,12,13,14,15,16,17], "paddingInner": 0, "paddingOuter": 0}, "axis": null},
                   "color": {"field": "g", "type": "nominal", "scale": {"domain": ["female", "male", "indep"], "range": ["#e6b8b7", "#b9cde5", "#d9d9d9"]}, "legend": null}}},
                {"data": {"name": "groups"}, "mark": {"type": "text", "fontSize": 16, "lineBreak": "\n", "lineHeight": 21, "baseline": "middle", "color": "#111", "dx": -3},
                 "encoding": {
                   "y": {"field": "r", "type": "ordinal", "scale": {"domain": [1,2,3,4,5,6,7,8,9,10,11,12,13,14,15,16,17], "paddingInner": 0, "paddingOuter": 0}, "axis": null},
                   "text": {"field": "label"}}},
                {"data": {"name": "grouptops"}, "mark": {"type": "rule", "color": "#7f7f7f", "strokeWidth": 2},
                 "encoding": {"y": {"field": "r", "type": "ordinal", "bandPosition": 0, "scale": {"domain": [1,2,3,4,5,6,7,8,9,10,11,12,13,14,15,16,17], "paddingInner": 0, "paddingOuter": 0}, "axis": null}}},
                {"data": {"name": "tablebottom"}, "mark": {"type": "rule", "color": "#7f7f7f", "strokeWidth": 2},
                 "encoding": {"y": {"field": "r", "type": "ordinal", "bandPosition": 1, "scale": {"domain": [1,2,3,4,5,6,7,8,9,10,11,12,13,14,15,16,17], "paddingInner": 0, "paddingOuter": 0}, "axis": null}}}
              ]
            },
            {
              "width": 145, "height": 361,
              "view": {"stroke": null},
              "title": {"text": ["enhancer", "modifications at", "DHS"], "anchor": "start", "fontSize": 15, "fontWeight": "normal", "lineHeight": 19, "offset": 3, "dx": 2},
              "layer": [
                {"data": {"name": "rows"}, "mark": {"type": "text", "align": "left", "fontSize": 16, "dx": 2},
                 "encoding": {
                   "x": {"datum": 0, "type": "quantitative", "scale": {"domain": [0, 1]}, "axis": null},
                   "y": {"field": "r", "type": "ordinal", "scale": {"domain": [1,2,3,4,5,6,7,8,9,10,11,12,13,14,15,16,17], "paddingInner": 0, "paddingOuter": 0}, "axis": null},
                   "text": {"field": "mod"},
                   "color": {"field": "m", "type": "nominal", "scale": {"domain": ["female", "male", "none"], "range": ["#ee2222", "#2b7bc4", "#111111"]}, "legend": null}}},
                {"data": {"name": "grouptops"}, "mark": {"type": "rule", "color": "#7f7f7f", "strokeWidth": 2},
                 "encoding": {"y": {"field": "r", "type": "ordinal", "bandPosition": 0, "scale": {"domain": [1,2,3,4,5,6,7,8,9,10,11,12,13,14,15,16,17], "paddingInner": 0, "paddingOuter": 0}, "axis": null}}},
                {"data": {"name": "tablebottom"}, "mark": {"type": "rule", "color": "#7f7f7f", "strokeWidth": 2},
                 "encoding": {"y": {"field": "r", "type": "ordinal", "bandPosition": 1, "scale": {"domain": [1,2,3,4,5,6,7,8,9,10,11,12,13,14,15,16,17], "paddingInner": 0, "paddingOuter": 0}, "axis": null}}}
              ]
            },
            {
              "width": 39, "height": 361,
              "view": {"stroke": null},
              "title": {"text": ["#", "DHS"], "fontSize": 15, "fontWeight": "normal", "lineHeight": 19, "offset": 3, "dx": -4},
              "layer": [
                {"data": {"name": "rows"}, "mark": {"type": "text", "align": "right", "fontSize": 16, "dx": -11},
                 "encoding": {
                   "x": {"datum": 1, "type": "quantitative", "scale": {"domain": [0, 1]}, "axis": null},
                   "y": {"field": "r", "type": "ordinal", "scale": {"domain": [1,2,3,4,5,6,7,8,9,10,11,12,13,14,15,16,17], "paddingInner": 0, "paddingOuter": 0}, "axis": null},
                   "text": {"field": "n", "type": "quantitative", "format": "d"},
                   "color": {"field": "m", "type": "nominal", "scale": {"domain": ["female", "male", "none"], "range": ["#ee2222", "#2b7bc4", "#111111"]}, "legend": null}}},
                {"data": {"name": "grouptops"}, "mark": {"type": "rule", "color": "#7f7f7f", "strokeWidth": 2},
                 "encoding": {"y": {"field": "r", "type": "ordinal", "bandPosition": 0, "scale": {"domain": [1,2,3,4,5,6,7,8,9,10,11,12,13,14,15,16,17], "paddingInner": 0, "paddingOuter": 0}, "axis": null}}},
                {"data": {"name": "tablebottom"}, "mark": {"type": "rule", "color": "#7f7f7f", "strokeWidth": 2},
                 "encoding": {"y": {"field": "r", "type": "ordinal", "bandPosition": 1, "scale": {"domain": [1,2,3,4,5,6,7,8,9,10,11,12,13,14,15,16,17], "paddingInner": 0, "paddingOuter": 0}, "axis": null}}}
              ]
            },
            {
              "width": 450, "height": 361,
              "view": {"stroke": null},
              "resolve": {"scale": {"x": "independent"}, "axis": {"x": "independent"}},
              "layer": [
                {"data": {"name": "cells"}, "mark": {"type": "rect"},
                 "encoding": {
                   "x": {"field": "c", "type": "nominal", "scale": {"domain": ["GH-induced*", "GH-suppressed*", "STAT5-female", "STAT5-male", "FOXA1-female", "FOXA2-female", "FOXA1-male", "FOXA2-male", "BCL6", "CUX2"], "paddingInner": 0, "paddingOuter": 0},
                         "axis": {"orient": "top", "labelAngle": -90, "labelAlign": "left", "labelBaseline": "middle", "labelFontSize": 14.5, "labelFontWeight": "bold", "labelColor": "#111", "labelPadding": 4, "ticks": false, "domain": false, "title": null, "labelLimit": 200}},
                   "y": {"field": "r", "type": "ordinal", "scale": {"domain": [1,2,3,4,5,6,7,8,9,10,11,12,13,14,15,16,17], "paddingInner": 0, "paddingOuter": 0}, "axis": null},
                   "color": {"field": "v", "type": "quantitative", "scale": {"domain": [0, 0.2, 0.4, 1, 43.7], "range": ["#7030a0", "#7b3cab", "#9c6cc5", "#ffffff", "#14a550"], "interpolate": "rgb"}, "legend": null}}},
                {"data": {"name": "cells"}, "mark": {"type": "text", "fontSize": 16, "color": "#1a1a1a"},
                 "encoding": {
                   "x": {"field": "c", "type": "nominal", "scale": {"domain": ["GH-induced*", "GH-suppressed*", "STAT5-female", "STAT5-male", "FOXA1-female", "FOXA2-female", "FOXA1-male", "FOXA2-male", "BCL6", "CUX2"], "paddingInner": 0, "paddingOuter": 0},
                         "axis": {"orient": "top", "offset": 134, "labels": false, "ticks": false, "domain": true, "domainColor": "#7f7f7f", "domainWidth": 1.5, "title": "Enrichment", "titleFontSize": 16, "titleFontWeight": "bold", "titlePadding": 3, "titleColor": "#111"}},
                   "y": {"field": "r", "type": "ordinal", "scale": {"domain": [1,2,3,4,5,6,7,8,9,10,11,12,13,14,15,16,17], "paddingInner": 0, "paddingOuter": 0}, "axis": null},
                   "text": {"field": "v", "type": "quantitative", "format": ".1f"}}},
                {"data": {"name": "grouptops"}, "mark": {"type": "rule", "color": "#7f7f7f", "strokeWidth": 2},
                 "encoding": {"y": {"field": "r", "type": "ordinal", "bandPosition": 0, "scale": {"domain": [1,2,3,4,5,6,7,8,9,10,11,12,13,14,15,16,17], "paddingInner": 0, "paddingOuter": 0}, "axis": null}}},
                {"data": {"name": "tablebottom"}, "mark": {"type": "rule", "color": "#7f7f7f", "strokeWidth": 2},
                 "encoding": {"y": {"field": "r", "type": "ordinal", "bandPosition": 1, "scale": {"domain": [1,2,3,4,5,6,7,8,9,10,11,12,13,14,15,16,17], "paddingInner": 0, "paddingOuter": 0}, "axis": null}}}
              ]
            }
          ]
        }
      ]
    }
  ],
  "config": {
    "font": "Liberation Sans",
    "view": {"stroke": "#222", "strokeWidth": 1.2},
    "axis": {"grid": false, "domain": false, "tickColor": "#222", "labelColor": "#222", "titleColor": "#111", "labelFont": "Liberation Sans", "titleFont": "Liberation Sans"},
    "title": {"font": "Liberation Sans", "color": "#111"},
    "legend": {"labelFont": "Liberation Sans"},
    "text": {"font": "Liberation Sans"}
  }
}
